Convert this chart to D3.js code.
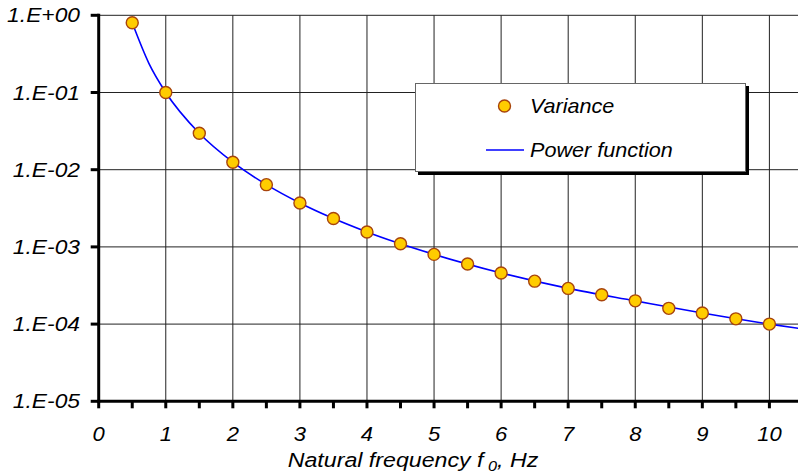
<!DOCTYPE html>
<html>
<head>
<meta charset="utf-8">
<script src="https://cdn.jsdelivr.net/npm/d3@7"></script>
<style>
  body { margin: 0; background: #fff; }
  text { font-family: "Liberation Sans", Arial, sans-serif; font-style: italic; fill: #000; }
</style>
</head>
<body>
<svg id="chart" width="798" height="474"></svg>
<script>
// data
const freq = [0.5, 1, 1.5, 2, 2.5, 3, 3.5, 4, 4.5, 5, 5.5, 6, 6.5, 7, 7.5, 8, 8.5, 9, 9.5, 10];
const variance = [0.8, 0.1, 0.0296, 0.0125, 0.0064, 0.0037, 0.00233, 0.00156, 0.0011, 0.0008,
                  0.0006, 0.00046, 0.00036, 0.00029, 0.00024, 0.0002, 0.00016, 0.000139, 0.000117, 0.0001];
// power function curve
const fitX = [0.5, 0.75, 1, 1.5, 2, 2.5, 3, 4, 5, 6, 7, 8, 9, 10, 10.45];
const fitY = [0.8, 0.237, 0.1, 0.0296, 0.0125, 0.0064, 0.0037, 0.00156, 0.0008, 0.00046, 0.00029, 0.0002, 0.000139, 0.0001, 0.0000876];
const xTicks = [0, 1, 2, 3, 4, 5, 6, 7, 8, 9, 10];
const xMinor = [0, 0.5, 1, 1.5, 2, 2.5, 3, 3.5, 4, 4.5, 5, 5.5, 6, 6.5, 7, 7.5, 8, 8.5, 9, 9.5, 10, 10.5];
const yTicks = [1, 1e-1, 1e-2, 1e-3, 1e-4, 1e-5];
const yLabels = ["1.E+00", "1.E-01", "1.E-02", "1.E-03", "1.E-04", "1.E-05"];

const svg = d3.select("#chart");
const W = 798;

const x = d3.scaleLinear().domain([0, 10]).range([98.7, 769.4]);
const y = d3.scaleLog().domain([1e-5, 1]).range([401.3, 15.3]);

svg.append("defs").append("clipPath").attr("id", "plot-clip")
    .append("rect").attr("x", x(0)).attr("y", 0).attr("width", W - x(0)).attr("height", y(1e-5));

// grid
const grid = svg.append("g");
grid.selectAll(".hg").data(yTicks.slice(0, 5)).enter().append("line")
    .attr("x1", x(0)).attr("x2", W)
    .attr("y1", d => y(d)).attr("y2", d => y(d))
    .style("stroke", "#222").style("stroke-width", 1);
grid.selectAll(".vg").data(xTicks.slice(1)).enter().append("line")
    .attr("x1", d => x(d)).attr("x2", d => x(d))
    .attr("y1", y(1)).attr("y2", y(1e-5))
    .style("stroke", "#222").style("stroke-width", 1);

// fitted power function
const line = d3.line()
    .x((d, i) => x(fitX[i]))
    .y(d => y(d))
    .curve(d3.curveMonotoneX);

svg.append("g").attr("clip-path", "url(#plot-clip)")
    .append("path")
    .attr("d", line(fitY))
    .style("fill", "none")
    .style("stroke", "#0000ff")
    .style("stroke-width", 1.6);

// variance markers
svg.append("g").selectAll("circle").data(variance).enter().append("circle")
    .attr("cx", (d, i) => x(freq[i]))
    .attr("cy", d => y(d))
    .attr("r", 6)
    .style("fill", "#ffcc00")
    .style("stroke", "#a8440c")
    .style("stroke-width", 1.4);

// axes
const axes = svg.append("g");
axes.append("line")
    .attr("x1", x(0)).attr("x2", x(0))
    .attr("y1", y(1) - 1.5).attr("y2", y(1e-5) + 1.5)
    .style("stroke", "#000").style("stroke-width", 3);
axes.append("line")
    .attr("x1", x(0) - 1.5).attr("x2", W)
    .attr("y1", y(1e-5)).attr("y2", y(1e-5))
    .style("stroke", "#000").style("stroke-width", 3);
axes.selectAll(".yt").data(yTicks).enter().append("line")
    .attr("x1", x(0) - 8).attr("x2", x(0))
    .attr("y1", d => y(d)).attr("y2", d => y(d))
    .style("stroke", "#000").style("stroke-width", 3);
axes.selectAll(".xt").data(xMinor.filter(d => x(d) < W)).enter().append("line")
    .attr("x1", d => x(d)).attr("x2", d => x(d))
    .attr("y1", y(1e-5)).attr("y2", y(1e-5) + 7)
    .style("stroke", "#000").style("stroke-width", 3);

axes.selectAll(".yl").data(yTicks).enter().append("text")
    .attr("transform", d => `translate(80,${y(d) + 7}) scale(1.14,1)`)
    .attr("text-anchor", "end")
    .style("font-size", "20px")
    .text((d, i) => yLabels[i]);

axes.selectAll(".xl").data(xTicks).enter().append("text")
    .attr("transform", d => `translate(${x(d)},${y(1e-5) + 40}) scale(1.1,1)`)
    .attr("text-anchor", "middle")
    .style("font-size", "20px")
    .text(d => d);

// axis title with subscript
const title = svg.append("text")
    .attr("transform", `translate(413,467) scale(1.16,1)`)
    .attr("text-anchor", "middle")
    .style("font-size", "20px");
title.append("tspan").text("Natural frequency f");
title.append("tspan").attr("dy", 4).style("font-size", "14px").text(" 0");
title.append("tspan").attr("dy", -4).text(", Hz");

// legend
const lg = svg.append("g");
lg.append("rect").attr("x", 418).attr("y", 86).attr("width", 331).attr("height", 89).style("fill", "#000");
lg.append("rect").attr("x", 415.5).attr("y", 83.5).attr("width", 330).attr("height", 88)
    .style("fill", "#fff").style("stroke", "#666").style("stroke-width", 1);
lg.append("circle").attr("cx", 504.5).attr("cy", 106).attr("r", 6)
    .style("fill", "#ffcc00").style("stroke", "#a8440c").style("stroke-width", 1.4);
lg.append("line").attr("x1", 486).attr("x2", 524).attr("y1", 150).attr("y2", 150)
    .style("stroke", "#0000ff").style("stroke-width", 1.6);
lg.append("text").attr("transform", "translate(530,113) scale(1.08,1)").style("font-size", "20px").text("Variance");
lg.append("text").attr("transform", "translate(530,157) scale(1.08,1)").style("font-size", "20px").text("Power function");
</script>
</body>
</html>
